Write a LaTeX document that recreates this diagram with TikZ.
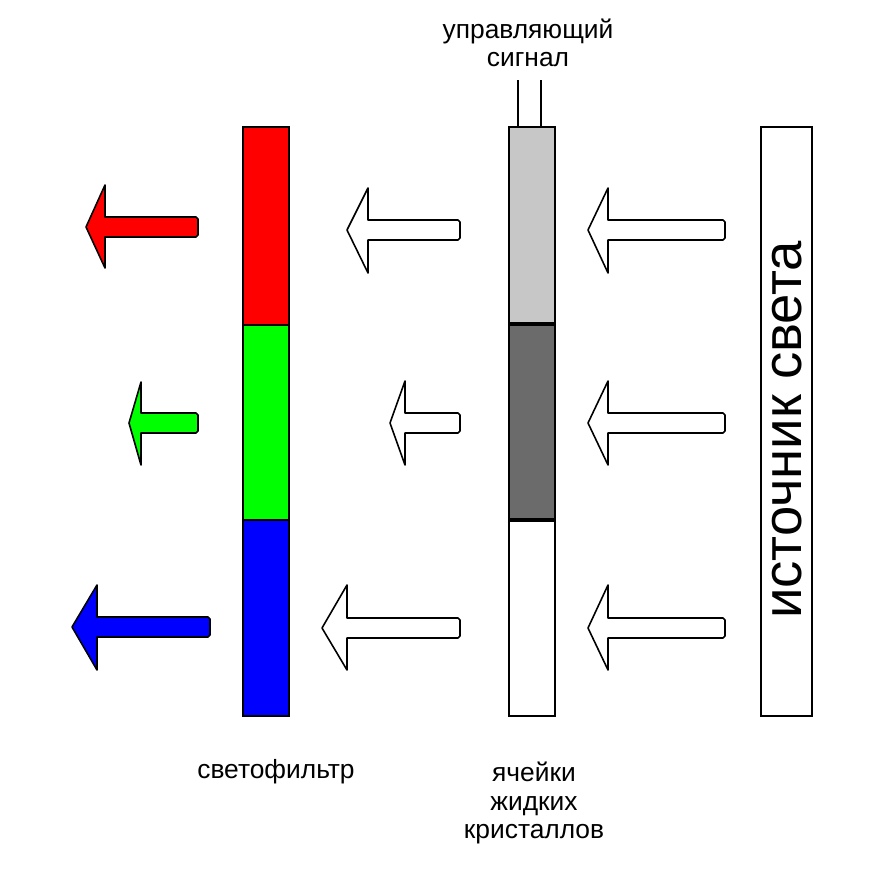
\documentclass[tikz,border=0pt]{standalone}
\usepackage{fontspec}
\setmainfont{Liberation Sans}
\begin{document}
\begin{tikzpicture}[x=0.02cm,y=-0.02cm,
  bar/.style={draw=black,line width=1pt},
  arr/.style={draw=black,line width=0.9pt,line join=round},
  lbl/.style={font=\fontsize{15}{16}\selectfont,align=center}]
\useasboundingbox (0,0) rectangle (888,872);
\newcommand{\myarrow}[9]{% name, tip, y, back, end, top, bottom, shafthalf, fill
  \path[arr,fill=#9] (#2,#3) -- (#4,#6) -- (#4,#3-#8) -- (#5-2,#3-#8) -- (#5,#3-#8+2) -- (#5,#3+#8-2) -- (#5-2,#3+#8) -- (#4,#3+#8) -- (#4,#7) -- cycle;
  \coordinate (#1) at (#2,#3);}
% filter
\path[bar,fill=red] (243,127) rectangle (289,325);
\path[bar,fill=green] (243,325) rectangle (289,520);
\path[bar,fill=blue] (243,520) rectangle (289,716);
% LC
\path[bar,fill=black!22] (509,127) rectangle (555,324);
\path[bar,fill=black!58] (509,324) rectangle (555,520);
\path[bar,fill=white] (509,520) rectangle (555,716);
\draw[line width=2pt] (509,324) -- (555,324) (509,520) -- (555,520);
\coordinate (w1) at (518,80); \coordinate (w1b) at (518,127);
\coordinate (w2) at (541,80); \coordinate (w2b) at (541,127);
\draw[line width=1.2pt] (w1) -- (w1b) (w2) -- (w2b);
% source
\path[bar,fill=white] (761,127) rectangle (812,716);
\node[rotate=90,font=\fontsize{31}{33}\selectfont] (src) at (787,430) {источник света};
% arrows
\myarrow{a1}{86}{227}{105}{198}{185}{268}{10}{red}
\myarrow{a2}{129}{423}{141}{198}{382}{465}{10}{green}
\myarrow{a3}{72}{627}{97}{210}{585}{670}{10}{blue}
\myarrow{b1}{347}{230}{368}{460}{188}{273}{10}{white}
\myarrow{b2}{390}{423}{405}{460}{381}{465}{10}{white}
\myarrow{b3}{322}{628}{347}{460}{585}{670}{10}{white}
\myarrow{c1}{588}{230}{608}{725}{188}{273}{10}{white}
\myarrow{c2}{588}{423}{608}{725}{381}{465}{10}{white}
\myarrow{c3}{588}{628}{608}{725}{585}{670}{10}{white}
% labels
\node[lbl] (sig) at (528,43) {управляющий\\сигнал};
\node[lbl] (flt) at (276,772) {светофильтр};
\node[lbl] (lc) at (534,803) {ячейки\\жидких\\кристаллов};
\end{tikzpicture}
\end{document}
